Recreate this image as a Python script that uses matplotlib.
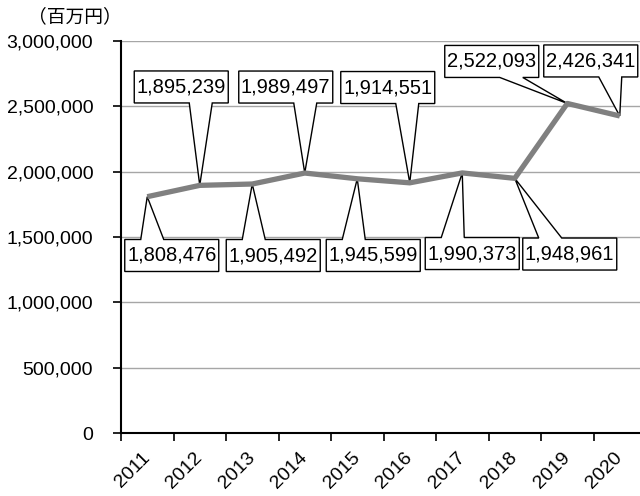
import matplotlib
matplotlib.use("Agg")
import matplotlib.pyplot as plt
from matplotlib.patches import Polygon
from matplotlib.transforms import Affine2D
from matplotlib import font_manager

# Data (百万円)
years = ["2011", "2012", "2013", "2014", "2015", "2016", "2017", "2018", "2019", "2020"]
values = [1808476, 1895239, 1905492, 1989497, 1945599, 1914551, 1990373, 1948961, 2522093, 2426341]
y_ticks = [0, 500000, 1000000, 1500000, 2000000, 2500000, 3000000]
unit_label = "（百万円）"

# Callout box centre offsets from each point, in pixels (x right, y up)
callout_offsets = [(24.5, -58.8), (-18.5, 98.4), (21, -71.5), (-19, 86), (16, -76.7),
                   (-22, 95.3), (10, -80.6), (55, -75.7), (-75.5, 42), (-29, 55)]
BOX_W, BOX_H = 94, 32

installed = {f.name for f in font_manager.fontManager.ttflist}
tick_family = [f for f in ["Liberation Sans", "DejaVu Sans"] if f in installed]
cjk_family = ["Noto Sans CJK JP", "DejaVu Sans"]

fig = plt.figure(figsize=(6.4, 4.96), dpi=100)
ax = fig.add_axes([121 / 640, 63 / 496, 525 / 640, 392 / 496])

x = list(range(len(years)))
ax.set_xlim(-0.5, len(years) - 0.5)
ax.set_ylim(0, 3000000)

# grid
ax.set_yticks(y_ticks)
ax.set_yticklabels([f"{v:,}" for v in y_ticks], fontfamily=tick_family, fontsize=14)
ax.yaxis.grid(True, color="#a6a6a6", linewidth=1.0)
ax.set_axisbelow(True)

# category boundaries as ticks, labels at category centres
ax.set_xticks([i - 0.5 for i in range(len(years) + 1)])
ax.set_xticklabels([])
ax.set_xticks(x, minor=True)
ax.set_xticklabels(years, minor=True, rotation=45, ha="right", va="center",
                   rotation_mode="anchor", fontfamily=tick_family, fontsize=14)
ax.tick_params(axis="x", which="minor", length=0, pad=16)
ax.tick_params(axis="x", which="major", length=6, width=1.2, color="black", direction="out")
ax.tick_params(axis="y", length=6, width=1.2, color="black", pad=14, direction="out")

for side in ["top", "right"]:
    ax.spines[side].set_visible(False)
ax.spines["left"].set_linewidth(1.5)
ax.spines["bottom"].set_linewidth(1.5)

ax.plot(x, values, color="#808080", linewidth=3.8, zorder=5, solid_capstyle="butt")

fig.canvas.draw()

for i, (v, (dx, dy)) in enumerate(zip(values, callout_offsets)):
    px, py = ax.transData.transform((i, v))
    left, right = dx - BOX_W / 2, dx + BOX_W / 2
    bottom, top = dy - BOX_H / 2, dy + BOX_H / 2
    if dy > 0:
        a, b = dx + 8, dx + 31
        verts = [(left, bottom), (a, bottom), (0, 0), (b, bottom), (right, bottom),
                 (right, top), (left, top)]
    else:
        a, b = dx - 31, dx - 8
        verts = [(left, top), (a, top), (0, 0), (b, top), (right, top),
                 (right, bottom), (left, bottom)]
    poly = Polygon(verts, closed=True, facecolor="white", edgecolor="black",
                   linewidth=1.0, zorder=4, clip_on=False)
    poly.set_transform(Affine2D().translate(px, py))
    ax.add_artist(poly)
    ax.annotate(f"{v:,}", xy=(i, v), xytext=(dx, dy), textcoords="offset pixels",
                ha="center", va="center", fontsize=14.5, fontfamily=tick_family,
                zorder=7, annotation_clip=False)

fig.text(28 / 640, 1 - 17 / 496, unit_label, fontfamily=cjk_family, fontsize=13.5,
         ha="left", va="center")

fig.savefig("out.png", dpi=100)
